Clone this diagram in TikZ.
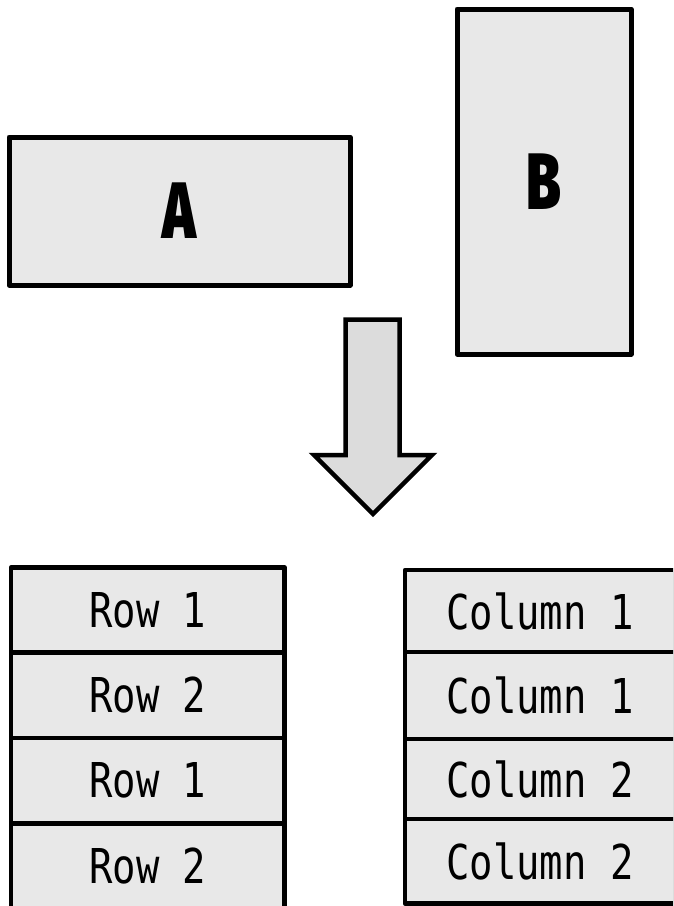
\documentclass[tikz,border=0pt]{standalone}
\usepackage{fontspec}
\newfontfamily\headfont{Fira Sans Black}[FakeStretch=0.70]
\newfontfamily\cellfont{DejaVu Sans Mono}[FakeStretch=0.81]
\definecolor{boxfill}{HTML}{E8E8E8}
\definecolor{arrowfill}{HTML}{DCDCDC}
\begin{document}
\begin{tikzpicture}[x=1pt,y=-1pt,
  block/.style={draw=black, fill=boxfill, line width=5pt, line join=round,
    inner sep=0pt, outer sep=0pt, font=\headfont\fontsize{80}{80}\selectfont},
  cell/.style={draw=black, fill=boxfill, line width=4.5pt, line join=round,
    inner sep=0pt, outer sep=0pt, font=\cellfont\fontsize{48}{48}\selectfont},
  bigarrow/.style={draw=black, fill=arrowfill, line width=4.5pt, line join=miter}]
  \useasboundingbox (0,0) rectangle (673,906);

  % the two source blocks
  \node[block, minimum width=341pt, minimum height=148pt] (A) at (179.5,211) {A};
  \node[block, minimum width=174pt, minimum height=345pt] (B) at (544,181.5) {B};

  % downward arrow
  \draw[bigarrow] (345.5,319.5) -- (399.5,319.5) -- (399.5,455) -- (432,455)
    -- (373,514) -- (314,455) -- (345.5,455) -- cycle;

  \begin{scope}
    \clip (0,0) rectangle (673,906);
    % row stack
    \node[cell, minimum width=273.5pt, minimum height=85pt]   (r1) at (147.75,610)   {Row 1};
    \node[cell, minimum width=273.5pt, minimum height=85.5pt] (r2) at (147.75,695.25) {Row 2};
    \node[cell, minimum width=273.5pt, minimum height=85.5pt] (r3) at (147.75,780.75) {Row 1};
    \node[cell, minimum width=273.5pt, minimum height=85.5pt] (r4) at (147.75,866.25) {Row 2};

    % column stack
    \node[cell, minimum width=270pt, minimum height=82pt]   (c1) at (540,611)    {Column 1};
    \node[cell, minimum width=270pt, minimum height=87pt]   (c2) at (540,695.5)  {Column 1};
    \node[cell, minimum width=270pt, minimum height=80pt]   (c3) at (540,779)    {Column 2};
    \node[cell, minimum width=270pt, minimum height=84.5pt] (c4) at (540,861.25) {Column 2};
  \end{scope}
\end{tikzpicture}
\end{document}
